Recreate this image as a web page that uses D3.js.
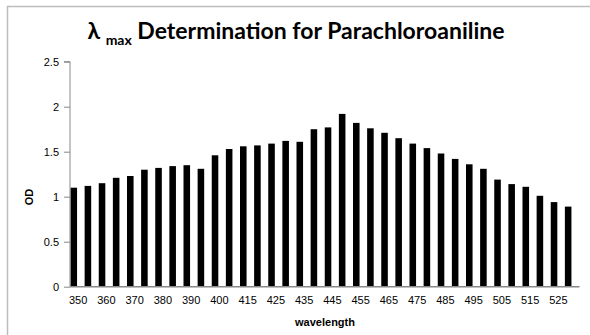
<!DOCTYPE html>
<html>
<head>
<meta charset="utf-8">
<script src="https://cdn.jsdelivr.net/npm/d3@7"></script>
<style>
  html, body { margin: 0; padding: 0; background: #fff; }
  svg { display: block; }
</style>
</head>
<body>
<svg id="chart" width="590" height="335"></svg>
<script>
const wavelengths = [350,355,360,365,370,375,380,385,390,395,400,405,415,420,425,430,435,440,445,450,455,460,465,470,475,480,485,490,495,500,505,510,515,520,525,530];
const odValues = [1.10,1.12,1.15,1.21,1.23,1.30,1.32,1.34,1.35,1.31,1.46,1.53,1.56,1.57,1.59,1.62,1.61,1.75,1.77,1.92,1.82,1.76,1.71,1.65,1.59,1.54,1.48,1.42,1.36,1.31,1.19,1.14,1.11,1.01,0.94,0.89];
const yTicks = [0, 0.5, 1, 1.5, 2, 2.5];
const yTickLabels = ["0", "0.5", "1", "1.5", "2", "2.5"];

(function () {
const svg = d3.select("#chart");
const font = "'Liberation Sans', Arial, sans-serif";

// chart area border (top and left visible)
svg.append("rect").attr("x", 7.5).attr("y", 6.5).attr("width", 600).attr("height", 400)
  .attr("fill", "none").attr("stroke", "#bdbdbd").attr("stroke-width", 1.5);

const pLeft = 70, pRight = 578.5, pTop = 61.7, pBottom = 286.7;

const x = d3.scaleBand().domain(wavelengths.map(String)).range([pLeft, pRight]).padding(0);
const y = d3.scaleLinear().domain([0, 2.5]).range([pBottom, pTop]);

// bars: occupy left half of each category band
svg.append("g").selectAll("rect").data(wavelengths).join("rect")
  .attr("x", (d) => x(String(d)) + 0.5)
  .attr("width", x.bandwidth() / 2 - 0.5)
  .attr("y", (d, i) => y(odValues[i]))
  .attr("height", (d, i) => y(0) - y(odValues[i]))
  .attr("fill", "#000");

// y axis
const yAxis = d3.axisLeft(y).tickValues(yTicks)
  .tickFormat((d, i) => yTickLabels[i]).tickSize(6).tickPadding(5);
const gy = svg.append("g").attr("transform", `translate(${pLeft},0)`).call(yAxis);
gy.select(".domain").attr("stroke", "#888").attr("d", `M-6,${pTop}H0V${pBottom}`);
gy.selectAll(".tick line").attr("stroke", "#888");
gy.selectAll("text").attr("font-family", font).attr("font-size", 11).attr("fill", "#000");

// x axis
const xAxis = d3.axisBottom(x)
  .tickValues(wavelengths.filter((d, i) => i % 2 === 0).map(String))
  .tickSize(0).tickPadding(10);
const gx = svg.append("g").attr("transform", `translate(0,${pBottom})`).call(xAxis);
gx.select(".domain").attr("stroke", "#888").attr("stroke-width", 1.5).attr("d", `M${pLeft},0H${pRight + 1}`);
gx.selectAll("text").attr("font-family", font).attr("font-size", 11).attr("fill", "#000")
  .attr("dx", 1);

// axis titles
svg.append("text").attr("x", 325).attr("y", 326).attr("text-anchor", "middle")
  .attr("font-family", font).attr("font-size", 11).attr("font-weight", "bold").text("wavelength");
svg.append("text").attr("transform", "translate(33,197) rotate(-90)").attr("text-anchor", "middle")
  .attr("font-family", font).attr("font-size", 11).attr("font-weight", "bold").text("OD");

// title
const t = svg.append("text").attr("x", 296).attr("y", 39).attr("text-anchor", "middle")
  .attr("font-family", "Lato, 'Liberation Sans', sans-serif").attr("font-weight", "bold").attr("font-size", 23);
t.append("tspan").text("λ ");
t.append("tspan").attr("font-size", 14).attr("dy", 6).text("max");
t.append("tspan").attr("dy", -6).text(" Determination for Parachloroaniline");
})();
</script>
</body>
</html>
